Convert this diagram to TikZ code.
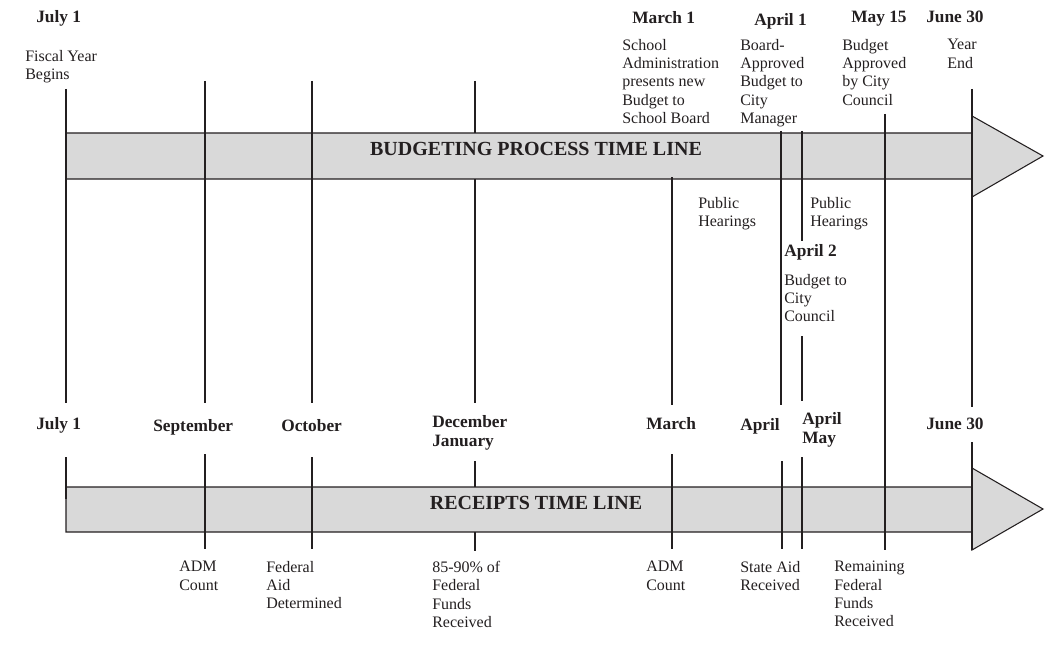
\documentclass[tikz,border=0pt]{standalone}
\usepackage{fontspec}
\setmainfont{Liberation Serif}
\definecolor{bandgray}{HTML}{D9D9D9}
\definecolor{ink}{HTML}{231F20}
\tikzset{
  x=0.75pt, y=-0.75pt,
  band/.style={fill=bandgray, draw=ink, line width=0.8pt, line join=miter},
  tick/.style={draw=ink, line width=1.5pt},
  note/.style={anchor=north west, inner sep=0pt, align=left, text=ink,
    font=\fontsize{12}{13.7}\selectfont},
  date/.style={anchor=north west, inner sep=0pt, align=left, text=ink,
    font=\fontsize{13}{14.6}\selectfont\bfseries},
  bandtitle/.style={anchor=base, inner sep=0pt, text=ink,
    font=\fontsize{15}{17}\selectfont\bfseries},
}
\begin{document}
\begin{tikzpicture}
\useasboundingbox (0,0) rectangle (1045,649);

% bands (arrows)
\draw[band] (66,133) -- (972,133) -- (972,116) -- (1043,156) -- (972,197) -- (972,179) -- (66,179) -- cycle;
\draw[band] (66,487) -- (972,487) -- (972,468) -- (1043,509) -- (972,550) -- (972,532) -- (66,532) -- cycle;

% upper ticks
\draw[tick] (66,89) -- (66,403);
\draw[tick] (205,81) -- (205,403);
\draw[tick] (312,81) -- (312,403);
\draw[tick] (475,81) -- (475,133);
\draw[tick] (475,179) -- (475,403);
\draw[tick] (672,177) -- (672,405);
\draw[tick] (781,131) -- (781,405);
\draw[tick] (802,131) -- (802,241);
\draw[tick] (802,336) -- (802,401);
\draw[tick] (885,114) -- (885,550);
\draw[tick] (972,89) -- (972,407);

% lower ticks
\draw[tick] (66,457) -- (66,499);
\draw[tick] (205,454) -- (205,549);
\draw[tick] (312,457) -- (312,549);
\draw[tick] (475,461) -- (475,487);
\draw[tick] (475,532) -- (475,551);
\draw[tick] (672,454) -- (672,549);
\draw[tick] (782,461) -- (782,549);
\draw[tick] (802,457) -- (802,549);
\draw[tick] (972,442) -- (972,550);

% band titles
\node[bandtitle] (budgetline) at (536,156) {BUDGETING PROCESS TIME LINE};
\node[bandtitle] (receiptline) at (536,509) {RECEIPTS TIME LINE};

% top dates
\node[date] (tjuly) at (36,10) {July 1};
\node[date] (tmarch) at (632,11) {March 1};
\node[date] (tapril) at (754,13) {April 1};
\node[date] (tmay) at (851,11) {May 15};
\node[date] (tjune) at (926,11) {June 30};

% top notes
\node[note] (fiscal) at (25,50) {Fiscal Year\\Begins};
\node[note] (school) at (622,39) {School\\Administration\\presents new\\Budget to\\School Board};
\node[note] (board) at (740,39) {Board-\\Approved\\Budget to\\City\\Manager};
\node[note] (approved) at (842,39) {Budget\\Approved\\by City\\Council};
\node[note] (yearend) at (947,39) {Year\\End};
\node[note] (hear1) at (698,197) {Public\\Hearings};
\node[note] (hear2) at (810,197) {Public\\Hearings};
\node[date] (april2) at (784,244) {April 2};
\node[note] (council) at (784,274) {Budget to\\City\\Council};

% bottom dates
\node[date] (bjuly) at (36,417) {July 1};
\node[date] (bsep) at (153,419) {September};
\node[date] (boct) at (281,419) {October};
\node[date] (bdec) at (432,415) {December\\January};
\node[date] (bmar) at (646,417) {March};
\node[date] (bapr) at (740,418) {April};
\node[date] (baprmay) at (802,412) {April\\May};
\node[date] (bjune) at (926,418) {June 30};

% bottom notes
\node[note] (adm1) at (179,561) {ADM\\Count};
\node[note] (fedaid) at (266,561) {Federal\\Aid\\Determined};
\node[note] (fed85) at (432,561) {85-90\% of\\Federal\\Funds\\Received};
\node[note] (adm2) at (646,561) {ADM\\Count};
\node[note] (state) at (740,561) {State Aid\\Received};
\node[note] (remain) at (834,561) {Remaining\\Federal\\Funds\\Received};
\end{tikzpicture}
\end{document}
